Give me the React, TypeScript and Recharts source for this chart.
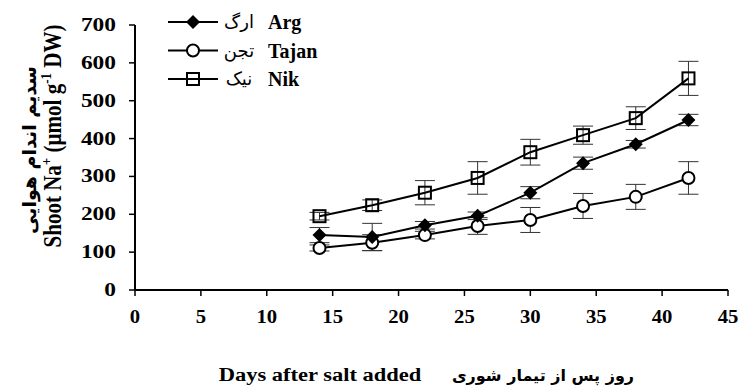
import React from 'react';
import { ComposedChart, Line, XAxis, YAxis, ErrorBar } from 'recharts';

const days = [14, 18, 22, 26, 30, 34, 38, 42];
const argValues = [145, 140, 171, 196, 257, 335, 385, 449];
const argErrors = [20, 36, 10, 10, 16, 16, 10, 15];
const tajanValues = [111, 125, 145, 169, 185, 222, 246, 296];
const tajanErrors = [8, 21, 10, 22, 33, 33, 33, 43];
const nikValues = [195, 224, 257, 296, 364, 409, 454, 559];
const nikErrors = [10, 14, 32, 43, 34, 24, 30, 45];

const xTicks = [0, 5, 10, 15, 20, 25, 30, 35, 40, 45];
const yTicks = [0, 100, 200, 300, 400, 500, 600, 700];

const legendItems = [
  { key: 'arg', fa: 'ارگ', en: 'Arg', marker: 'diamond' },
  { key: 'tajan', fa: 'تجن', en: 'Tajan', marker: 'circle' },
  { key: 'nik', fa: 'نیک', en: 'Nik', marker: 'square' },
];

const data = days.map((d, i) => ({
  day: d,
  arg: argValues[i],
  argErr: argErrors[i],
  tajan: tajanValues[i],
  tajanErr: tajanErrors[i],
  nik: nikValues[i],
  nikErr: nikErrors[i],
}));

const SERIF = '"Liberation Serif", "Times New Roman", serif';
const ARABIC = '"DejaVu Sans", sans-serif';
const STRETCH = 1.3;

// marker shapes, shared by plot and legend
const Marker = ({ type, cx, cy }: { type: string; cx: number; cy: number }) => {
  if (type === 'diamond') {
    return <path d={`M${cx},${cy - 7}L${cx + 7},${cy}L${cx},${cy + 7}L${cx - 7},${cy}Z`} fill="#000" />;
  }
  if (type === 'circle') {
    return <circle cx={cx} cy={cy} r={6} fill="#fff" stroke="#000" strokeWidth={2} />;
  }
  return <rect x={cx - 6} y={cy - 6} width={12} height={12} fill="none" stroke="#000" strokeWidth={2} />;
};

const dotOf = (type: string) => (p: any) => (
  <Marker key={`${type}-${p.index}`} type={type} cx={p.cx} cy={p.cy} />
);

const XTick = (props: any) => {
  const { x, y, payload } = props;
  return (
    <g transform={`translate(${x},${y}) scale(1.15,1)`}>
      <text x={0} y={25} textAnchor="middle" fontFamily={SERIF} fontWeight="bold" fontSize={18} fill="#000">
        {payload.value}
      </text>
    </g>
  );
};

const YTick = (props: any) => {
  const { x, y, payload } = props;
  return (
    <g transform={`translate(${x - 11},${y}) scale(${STRETCH},1)`}>
      <text x={0} y={6} textAnchor="end" fontFamily={SERIF} fontWeight="bold" fontSize={18} fill="#000">
        {payload.value}
      </text>
    </g>
  );
};

export default function App() {
  return (
    <div style={{ position: 'absolute', left: 0, top: 0, width: 739, height: 386, background: '#fff' }}>
      <ComposedChart width={739} height={386} data={data} margin={{ top: 25, right: 11, bottom: 56, left: 0 }}>
        <XAxis
          dataKey="day"
          type="number"
          domain={[0, 45]}
          ticks={xTicks}
          height={40}
          axisLine={{ stroke: '#000', strokeWidth: 2 }}
          tickLine={{ stroke: '#000', strokeWidth: 1.5 }}
          tickSize={6}
          tick={<XTick />}
        />
        <YAxis
          type="number"
          domain={[0, 700]}
          ticks={yTicks}
          width={135}
          axisLine={{ stroke: '#000', strokeWidth: 2 }}
          tickLine={{ stroke: '#000', strokeWidth: 1.5 }}
          tickSize={6}
          tick={<YTick />}
        />
        <Line dataKey="tajan" type="linear" stroke="#000" strokeWidth={2} dot={dotOf('circle')} activeDot={false} isAnimationActive={false}>
          <ErrorBar dataKey="tajanErr" width={10} stroke="#333" strokeWidth={1} direction="y" />
        </Line>
        <Line dataKey="arg" type="linear" stroke="#000" strokeWidth={2} dot={dotOf('diamond')} activeDot={false} isAnimationActive={false}>
          <ErrorBar dataKey="argErr" width={10} stroke="#333" strokeWidth={1} direction="y" />
        </Line>
        <Line dataKey="nik" type="linear" stroke="#000" strokeWidth={2} dot={dotOf('square')} activeDot={false} isAnimationActive={false}>
          <ErrorBar dataKey="nikErr" width={10} stroke="#333" strokeWidth={1} direction="y" />
        </Line>
      </ComposedChart>

      {/* axis titles and legend */}
      <svg width={739} height={386} style={{ position: 'absolute', left: 0, top: 0, pointerEvents: 'none' }}>
        <text
          transform={`translate(52,136) scale(1.2,1) rotate(-90)`}
          textAnchor="middle"
          dy="0.35em"
          fontFamily={SERIF}
          fontWeight="bold"
          fontSize={21}
          fill="#000"
        >
          Shoot Na
          <tspan dy={-8} fontSize={13}>+</tspan>
          <tspan dy={8}> (µmol g</tspan>
          <tspan dy={-8} fontSize={13}>-1</tspan>
          <tspan dy={8}> DW)</tspan>
        </text>
        <text
          transform="translate(29,150) rotate(-90)"
          textAnchor="middle"
          dy="0.35em"
          fontFamily={ARABIC}
          fontWeight="bold"
          fontSize={19}
          fill="#000"
        >
          سدیم اندام هوایی
        </text>

        <text
          transform={`translate(320,381) scale(1.25,1)`}
          textAnchor="middle"
          fontFamily={SERIF}
          fontWeight="bold"
          fontSize={18}
          fill="#000"
        >
          Days after salt added
        </text>
        <text x={543} y={381} textAnchor="middle" fontFamily={ARABIC} fontWeight="bold" fontSize={16} fill="#000">
          روز پس از تیمار شوری
        </text>

        {legendItems.map((item, i) => {
          const cy = 22 + i * 28.5;
          return (
            <g key={item.key}>
              <line x1={168} x2={218} y1={cy} y2={cy} stroke="#000" strokeWidth={2} />
              <Marker type={item.marker} cx={193} cy={cy} />
              <text x={239} y={cy + 6} textAnchor="middle" fontFamily={ARABIC} fontSize={18} fill="#000">
                {item.fa}
              </text>
              <text x={268} y={cy + 7} fontFamily={SERIF} fontWeight="bold" fontSize={20} fill="#000">
                {item.en}
              </text>
            </g>
          );
        })}
      </svg>
    </div>
  );
}
